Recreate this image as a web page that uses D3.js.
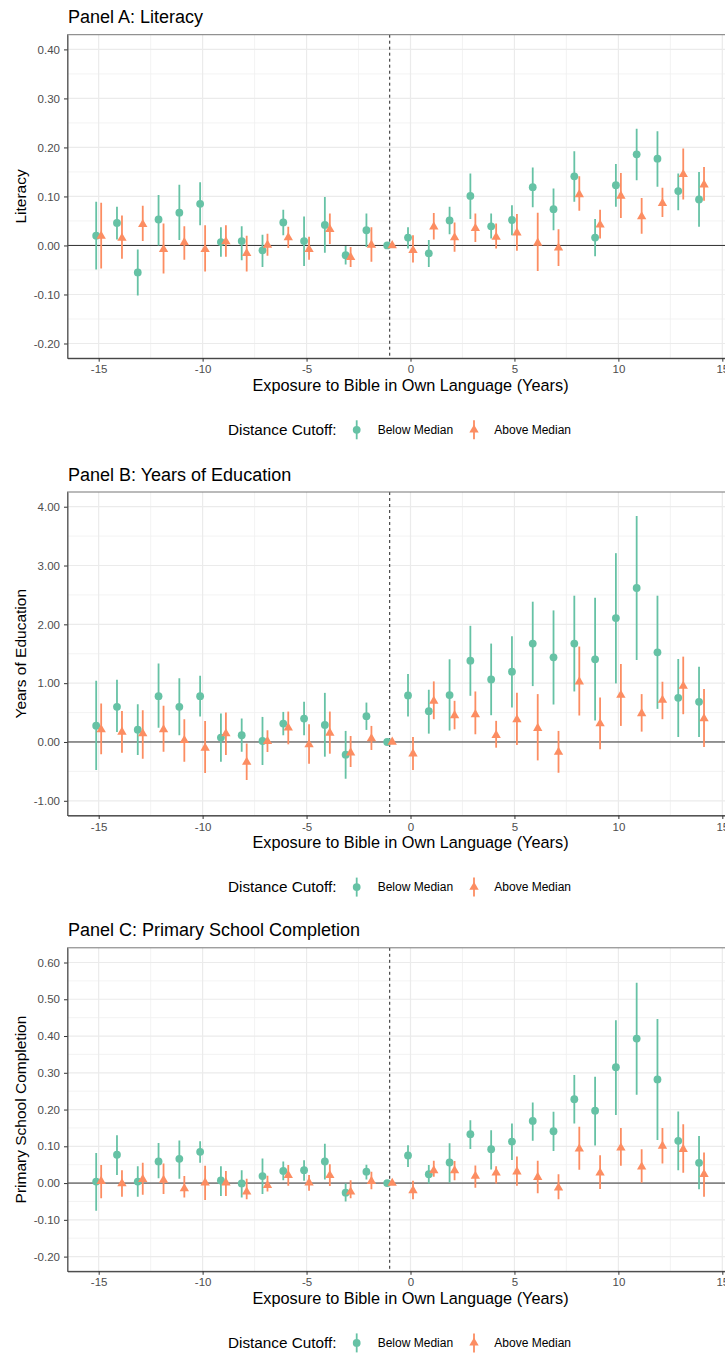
<!DOCTYPE html>
<html>
<head>
<meta charset="utf-8">
<script src="https://cdn.jsdelivr.net/npm/d3@7"></script>
<style>
  html, body { margin: 0; padding: 0; background: #fff; }
  svg { display: block; font-family: "Liberation Sans", Arial, Helvetica, sans-serif; }
</style>
</head>
<body>
<svg id="chart" width="725" height="1354"></svg>
<script>
// Years of exposure (relative to Bible translation)
const years = [-15,-14,-13,-12,-11,-10,-9,-8,-7,-6,-5,-4,-3,-2,-1,0,1,2,3,4,5,6,7,8,9,10,11,12,13,14];
const xTicks = [-15,-10,-5,0,5,10,15];

// Panel A: Literacy
const litBelow     = [0.020,0.046,-0.055,0.053,0.067,0.085,0.007,0.009,-0.010,0.047,0.009,0.042,-0.020,0.031,0,0.016,-0.016,0.051,0.101,0.039,0.052,0.119,0.074,0.141,0.016,0.123,0.186,0.177,0.111,0.094];
const litBelowLow  = [-0.049,0.012,-0.102,0.000,0.011,0.041,-0.023,-0.030,-0.044,0.021,-0.042,-0.015,-0.039,-0.003,0,-0.006,-0.044,0.023,0.054,0.014,0.021,0.078,0.031,0.089,-0.022,0.079,0.133,0.120,0.072,0.038];
const litBelowHigh = [0.089,0.079,-0.008,0.103,0.124,0.129,0.037,0.039,0.022,0.073,0.059,0.099,-0.001,0.065,0,0.037,0.011,0.079,0.147,0.065,0.082,0.159,0.116,0.192,0.054,0.166,0.238,0.233,0.147,0.150];
const litAbove     = [0.019,0.015,0.043,-0.008,0.006,-0.008,0.008,-0.016,0.001,0.016,-0.008,0.033,-0.024,0.001,0,-0.010,0.038,0.016,0.035,0.017,0.026,0.005,-0.005,0.104,0.042,0.101,0.059,0.086,0.145,0.124];
const litAboveLow  = [-0.047,-0.027,0.009,-0.057,-0.029,-0.053,-0.023,-0.053,-0.021,-0.005,-0.029,0.003,-0.044,-0.033,0,-0.035,0.012,-0.013,0.007,-0.006,-0.011,-0.052,-0.042,0.071,0.014,0.056,0.024,0.058,0.094,0.091];
const litAboveHigh = [0.087,0.061,0.081,0.045,0.039,0.041,0.041,0.020,0.024,0.038,0.018,0.065,-0.003,0.037,0,0.021,0.066,0.047,0.065,0.045,0.064,0.067,0.033,0.141,0.073,0.148,0.097,0.118,0.198,0.160];
const litTicks = [-0.2,-0.1,0,0.1,0.2,0.3,0.4];

// Panel B: Years of Education
const eduBelow     = [0.278,0.597,0.210,0.778,0.597,0.778,0.074,0.114,0.017,0.313,0.398,0.290,-0.216,0.438,0,0.791,0.524,0.797,1.383,1.064,1.195,1.673,1.440,1.673,1.406,2.106,2.618,1.525,0.751,0.683];
const eduBelowLow  = [-0.477,0.170,-0.222,0.244,0.114,0.432,-0.335,-0.165,-0.392,0.114,0.114,-0.250,-0.625,0.205,0,0.433,0.142,0.194,0.785,0.455,0.586,0.950,0.637,0.859,0.364,0.996,1.394,0.563,0.085,0.085];
const eduBelowHigh = [1.040,1.057,0.642,1.335,1.085,1.125,0.483,0.398,0.426,0.511,0.682,0.835,0.188,0.670,0,1.155,0.888,1.406,1.975,1.673,1.799,2.385,2.237,2.487,2.453,3.210,3.842,2.487,1.411,1.281];
const eduAbove     = [0.210,0.170,0.142,0.210,0.028,-0.102,0.142,-0.341,0.011,0.239,-0.045,0.153,-0.182,0.057,0,-0.199,0.694,0.450,0.467,0.114,0.381,0.233,-0.171,1.024,0.313,0.797,0.484,0.711,0.950,0.398];
const eduAboveLow  = [-0.210,-0.182,-0.284,-0.165,-0.335,-0.528,-0.222,-0.648,-0.170,-0.040,-0.369,-0.199,-0.426,-0.136,0,-0.478,0.387,0.216,0.131,-0.097,-0.051,-0.313,-0.524,0.450,-0.125,0.273,0.176,0.387,0.472,-0.085];
const eduAboveHigh = [0.653,0.528,0.540,0.614,0.386,0.358,0.500,-0.028,0.199,0.517,0.301,0.517,0.102,0.273,0,0.085,1.030,0.700,0.859,0.359,0.837,0.814,0.188,1.622,0.757,1.326,0.814,1.024,1.451,0.899];
const eduTicks = [-1,0,1,2,3,4];

// Panel C: Primary School Completion
const primBelow     = [0.004,0.077,0.004,0.059,0.066,0.085,0.007,-0.001,0.019,0.033,0.035,0.059,-0.026,0.031,0,0.075,0.024,0.056,0.133,0.092,0.113,0.169,0.141,0.228,0.197,0.315,0.393,0.282,0.115,0.055];
const primBelowLow  = [-0.075,0.022,-0.037,0.013,0.012,0.055,-0.035,-0.039,-0.030,0.008,0.006,0.010,-0.050,0.010,0,0.044,-0.001,0.001,0.093,0.037,0.063,0.115,0.087,0.162,0.102,0.185,0.240,0.117,0.035,-0.017];
const primBelowHigh = [0.082,0.130,0.046,0.109,0.116,0.114,0.046,0.035,0.067,0.059,0.062,0.107,-0.001,0.050,0,0.103,0.049,0.108,0.171,0.144,0.162,0.219,0.194,0.294,0.289,0.443,0.545,0.446,0.195,0.128];
const primAbove     = [0.005,-0.001,0.010,0.008,-0.015,0.001,0.001,-0.024,-0.006,0.021,0.001,0.021,-0.024,0.005,0,-0.020,0.034,0.034,0.019,0.028,0.031,0.016,-0.013,0.093,0.028,0.096,0.044,0.101,0.092,0.024];
const primAboveLow  = [-0.041,-0.037,-0.032,-0.030,-0.039,-0.046,-0.035,-0.044,-0.023,-0.007,-0.021,-0.008,-0.041,-0.017,0,-0.044,0.017,0.008,-0.013,-0.001,-0.007,-0.028,-0.044,0.036,-0.016,0.047,0.001,0.053,0.028,-0.037];
const primAboveHigh = [0.049,0.035,0.055,0.053,0.019,0.047,0.033,0.012,0.020,0.049,0.022,0.051,0.008,0.031,0,0.006,0.061,0.060,0.048,0.046,0.072,0.061,0.024,0.153,0.076,0.150,0.092,0.150,0.160,0.083];
const primTicks = [-0.2,-0.1,0,0.1,0.2,0.3,0.4,0.5,0.6];

const groupNames = ["Below Median", "Above Median"];
const legendTitle = "Distance Cutoff:";
const xTitle = "Exposure to Bible in Own Language (Years)";
const cutoffYear = -1;

const colBelow = "#66c2a5", colAbove = "#fc8d62";

const panels = [
  { title: "Panel A: Literacy", ylab: "Literacy", top: 34.7,
    below: litBelow, belowLow: litBelowLow, belowHigh: litBelowHigh,
    above: litAbove, aboveLow: litAboveLow, aboveHigh: litAboveHigh,
    ticks: litTicks },
  { title: "Panel B: Years of Education", ylab: "Years of Education", top: 492,
    below: eduBelow, belowLow: eduBelowLow, belowHigh: eduBelowHigh,
    above: eduAbove, aboveLow: eduAboveLow, aboveHigh: eduAboveHigh,
    ticks: eduTicks },
  { title: "Panel C: Primary School Completion", ylab: "Primary School Completion", top: 947.8,
    below: primBelow, belowLow: primBelowLow, belowHigh: primBelowHigh,
    above: primAbove, aboveLow: primAboveLow, aboveHigh: primAboveHigh,
    ticks: primTicks }
];

const svg = d3.select("#chart");
const plotLeft = 67.5, plotRight = 753.5, plotH = 323.5;
const dodge = 0.12;

const x = d3.scaleLinear().domain([-16.5, 16.5]).range([plotLeft, plotRight]);

// triangle with the data point at its centroid
const triR = 5.4;
function triPath(cx, cy) {
  const hw = triR * Math.sqrt(3) / 2;
  return `M${cx},${cy - triR}L${cx + hw},${cy + triR / 2}L${cx - hw},${cy + triR / 2}Z`;
}

const fmt = d => d.toFixed(2);

panels.forEach((p, pi) => {
  const top = p.top, bottom = top + plotH;
  const lo = d3.min(p.ticks), hi = d3.max(p.ticks);
  const pad = (hi - lo) * 0.05;
  const y = d3.scaleLinear().domain([lo - pad, hi + pad]).range([bottom, top]);
  const g = svg.append("g");

  const clipId = "clip" + pi;
  svg.append("clipPath").attr("id", clipId)
    .append("rect").attr("x", plotLeft).attr("y", top).attr("width", plotRight - plotLeft).attr("height", plotH);

  const plot = g.append("g").attr("clip-path", `url(#${clipId})`);

  // minor grid
  const step = p.ticks[1] - p.ticks[0];
  const yMinor = p.ticks.slice(0, -1).map(t => t + step / 2);
  const xMinor = xTicks.slice(0, -1).map(t => t + 2.5);
  plot.selectAll(".ymin").data(yMinor).join("line")
    .attr("x1", plotLeft).attr("x2", plotRight)
    .attr("y1", d => y(d)).attr("y2", d => y(d))
    .attr("stroke", "#f0f0f0").attr("stroke-width", 0.8);
  plot.selectAll(".xmin").data(xMinor).join("line")
    .attr("y1", top).attr("y2", bottom)
    .attr("x1", d => x(d)).attr("x2", d => x(d))
    .attr("stroke", "#f0f0f0").attr("stroke-width", 0.8);
  // major grid
  plot.selectAll(".ymaj").data(p.ticks).join("line")
    .attr("x1", plotLeft).attr("x2", plotRight)
    .attr("y1", d => y(d)).attr("y2", d => y(d))
    .attr("stroke", "#ebebeb").attr("stroke-width", 1.2);
  plot.selectAll(".xmaj").data(xTicks).join("line")
    .attr("y1", top).attr("y2", bottom)
    .attr("x1", d => x(d)).attr("x2", d => x(d))
    .attr("stroke", "#ebebeb").attr("stroke-width", 1.2);

  // reference lines
  plot.append("line")
    .attr("x1", plotLeft).attr("x2", plotRight).attr("y1", y(0)).attr("y2", y(0))
    .attr("stroke", "#333").attr("stroke-width", 1);
  plot.append("line")
    .attr("x1", x(cutoffYear)).attr("x2", x(cutoffYear)).attr("y1", top).attr("y2", bottom)
    .attr("stroke", "#222").attr("stroke-width", 1).attr("stroke-dasharray", "3,3");

  const rows = years.map((yr, i) => ({
    yr, b: p.below[i], bl: p.belowLow[i], bh: p.belowHigh[i],
    a: p.above[i], al: p.aboveLow[i], ah: p.aboveHigh[i]
  }));

  rows.forEach(r => {
    const xb = x(r.yr - dodge), xa = x(r.yr + dodge);
    if (r.bh !== r.bl) {
      plot.append("line").attr("x1", xb).attr("x2", xb)
        .attr("y1", y(r.bl)).attr("y2", y(r.bh))
        .attr("stroke", colBelow).attr("stroke-width", 1.8);
    }
    plot.append("circle").attr("cx", xb).attr("cy", y(r.b)).attr("r", 3.9).attr("fill", colBelow);
    if (r.ah !== r.al) {
      plot.append("line").attr("x1", xa).attr("x2", xa)
        .attr("y1", y(r.al)).attr("y2", y(r.ah))
        .attr("stroke", colAbove).attr("stroke-width", 1.8);
    }
    plot.append("path").attr("d", triPath(xa, y(r.a))).attr("fill", colAbove);
  });

  // panel border
  g.append("rect").attr("x", plotLeft).attr("y", top)
    .attr("width", plotRight - plotLeft).attr("height", plotH)
    .attr("fill", "none").attr("stroke", "#777").attr("stroke-width", 1);

  // axes
  const yAxis = g.append("g").attr("transform", `translate(${plotLeft},0)`)
    .call(d3.axisLeft(y).tickValues(p.ticks).tickFormat(fmt).tickSize(3.5).tickSizeOuter(0));
  yAxis.select(".domain").attr("stroke", "#555");
  yAxis.selectAll(".tick line").attr("stroke", "#333");
  yAxis.selectAll(".tick text").attr("x", -7.5)
    .style("fill", "#4d4d4d").style("font-size", "11.5px")
    .style("font-family", "'Liberation Sans', Arial, sans-serif");

  const xAxis = g.append("g").attr("transform", `translate(0,${bottom})`)
    .call(d3.axisBottom(x).tickValues(xTicks).tickFormat(d3.format("d")).tickSize(3.5).tickSizeOuter(0));
  xAxis.select(".domain").attr("stroke", "#333");
  xAxis.selectAll(".tick line").attr("stroke", "#333");
  xAxis.selectAll(".tick text").attr("y", 7)
    .style("fill", "#4d4d4d").style("font-size", "11.5px")
    .style("font-family", "'Liberation Sans', Arial, sans-serif")
    .text(d => d < 0 ? "-" + Math.abs(d) : String(d));

  // titles
  g.append("text").attr("x", 68).attr("y", top - 11.5)
    .attr("font-size", "18px").attr("fill", "#000").text(p.title);
  g.append("text").attr("x", x(0)).attr("y", bottom + 32.5)
    .attr("text-anchor", "middle").attr("font-size", "16.3px").attr("fill", "#000").text(xTitle);
  g.append("text")
    .attr("transform", `translate(25.5,${(top + bottom) / 2}) rotate(-90)`)
    .attr("text-anchor", "middle").attr("font-size", "15.5px").attr("fill", "#000").text(p.ylab);

  // legend
  const ly = bottom + 71.6;
  const leg = g.append("g");
  leg.append("text").attr("x", 228).attr("y", ly + 5.3)
    .attr("font-size", "15.3px").attr("fill", "#000").text(legendTitle);
  const keys = [
    { x: 356.7, tx: 377.7, col: colBelow, shape: "circle", label: groupNames[0] },
    { x: 474, tx: 494.3, col: colAbove, shape: "tri", label: groupNames[1] }
  ];
  keys.forEach(k => {
    leg.append("line").attr("x1", k.x).attr("x2", k.x).attr("y1", ly - 9.5).attr("y2", ly + 9.5)
      .attr("stroke", k.col).attr("stroke-width", 1.8);
    if (k.shape === "circle") {
      leg.append("circle").attr("cx", k.x).attr("cy", ly).attr("r", 3.9).attr("fill", k.col);
    } else {
      leg.append("path").attr("d", triPath(k.x, ly)).attr("fill", k.col);
    }
    leg.append("text").attr("x", k.tx).attr("y", ly + 4.3)
      .attr("font-size", "12px").attr("fill", "#000").text(k.label);
  });
});
</script>
</body>
</html>
